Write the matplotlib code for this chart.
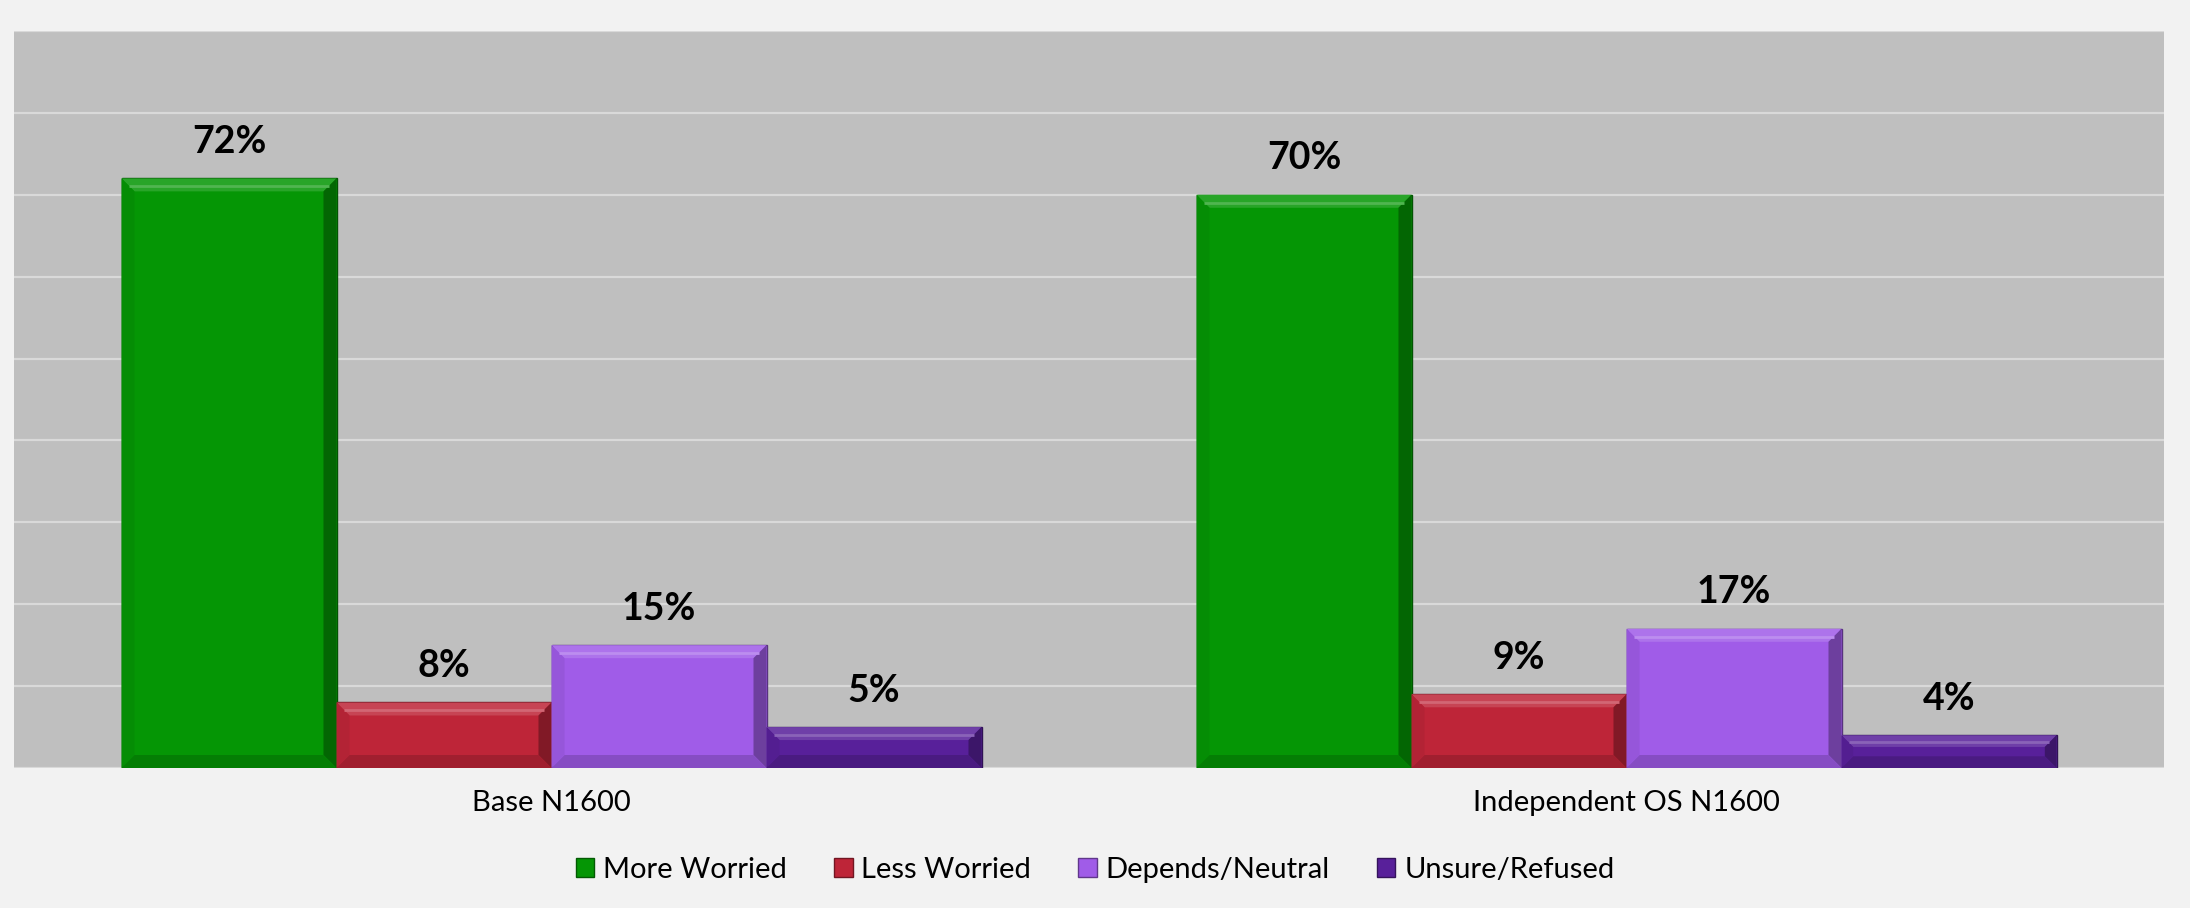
import numpy as np
import matplotlib.pyplot as plt
from matplotlib.patches import Polygon, Patch
from matplotlib.colors import to_rgb

# data
groups = ["Base N1600", "Independent OS N1600"]
series = ["More Worried", "Less Worried", "Depends/Neutral", "Unsure/Refused"]
more_worried = [0.72, 0.70]
less_worried = [0.08, 0.09]
depends_neutral = [0.15, 0.17]
unsure_refused = [0.05, 0.04]
colors = ["#059605", "#BE2538", "#A05CE8", "#58209A"]

values = [more_worried, less_worried, depends_neutral, unsure_refused]

plt.rcParams['font.family'] = ['Lato', 'DejaVu Sans']

W, H, DPI = 21.9, 9.08, 100
fig = plt.figure(figsize=(W, H), dpi=DPI, facecolor="#F2F2F2")
ax = fig.add_axes([14 / 2190, 1 - 768 / 908, 2150 / 2190, 737 / 908])
ax.set_facecolor("#BFBFBF")

ymax = 0.9
ax.set_xlim(-0.5, 1.5)
ax.set_ylim(0, ymax)
ax.set_yticks(np.arange(0, ymax + 0.01, 0.1))
ax.yaxis.grid(True, color="#D9D9D9", linewidth=1.6)
ax.set_axisbelow(True)
ax.tick_params(axis="y", left=False, labelleft=False)
ax.tick_params(axis="x", length=0, pad=16, labelsize=21)
for s in ax.spines.values():
    s.set_visible(False)

x = np.arange(len(groups))
width = 0.2

# size of one pixel in data units (for the bevel)
px_x = 2.0 / 2150
px_y = ymax / 737
bev = 13


def mix(c, other, t):
    c = np.array(to_rgb(c))
    o = np.array(to_rgb(other))
    return tuple(c * (1 - t) + o * t)


def bevel(rect, color):
    x0 = rect.get_x()
    y0 = rect.get_y()
    x1 = x0 + rect.get_width()
    y1 = y0 + rect.get_height()
    by = min(bev * px_y, rect.get_height() / 2.8)
    bx = by / px_y * px_x
    faces = [
        ([(x0, y1), (x1, y1), (x1 - bx, y1 - by), (x0 + bx, y1 - by)], mix(color, "white", 0.14)),
        ([(x1, y1), (x1, y0), (x1 - bx, y0 + by), (x1 - bx, y1 - by)], mix(color, "black", 0.32)),
        ([(x0, y0), (x1, y0), (x1 - bx, y0 + by), (x0 + bx, y0 + by)], mix(color, "black", 0.16)),
        ([(x0, y0), (x0, y1), (x0 + bx, y1 - by), (x0 + bx, y0 + by)], mix(color, "black", 0.06)),
    ]
    for pts, fc in faces:
        ax.add_patch(Polygon(pts, closed=True, facecolor=fc, edgecolor="none", zorder=3))
    # thin highlight line inside the top bevel
    ax.plot([x0 + bx * 0.6, x1 - bx * 0.6], [y1 - by * 0.6] * 2,
            color=mix(color, "white", 0.3), linewidth=2, zorder=4,
            solid_capstyle="butt")


for i, (vals, col) in enumerate(zip(values, colors)):
    bars = ax.bar(x + (i - 1.5) * width, vals, width, color=col,
                  edgecolor=mix(col, "black", 0.45), linewidth=1, zorder=2)
    for rect, v in zip(bars, vals):
        bevel(rect, col)
        ax.annotate(f"{v:.0%}", (rect.get_x() + rect.get_width() / 2, v),
                    xytext=(0, 14), textcoords="offset points",
                    ha="center", va="bottom", fontsize=27, fontweight="bold",
                    color="black")

ax.set_xticks(x)
ax.set_xticklabels(groups)

handles = [Patch(facecolor=c, edgecolor=mix(c, "black", 0.4)) for c in colors]
fig.legend(handles, series, loc="center", bbox_to_anchor=(0.5, 1 - 870 / 908),
           ncol=4, frameon=False, fontsize=21, handlelength=0.65, handleheight=0.65,
           handletextpad=0.3, columnspacing=1.6)

fig.savefig("out.png", dpi=DPI, facecolor=fig.get_facecolor())
